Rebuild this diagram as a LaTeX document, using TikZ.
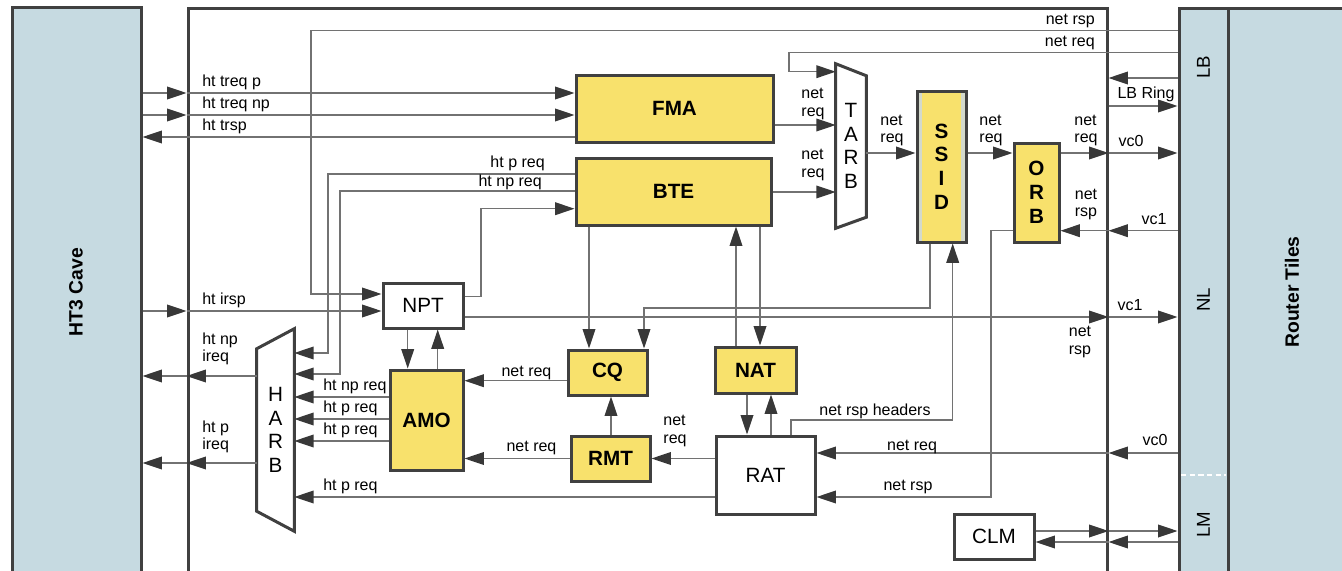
\documentclass[tikz,border=0pt]{standalone}
\usepackage{fontspec}
\setmainfont{Liberation Sans}
\usetikzlibrary{arrows.meta,fit,calc}
\definecolor{cave}{HTML}{C6DAE1}
\definecolor{gold}{HTML}{F8E16C}
\definecolor{ink}{HTML}{404040}
\definecolor{wire}{HTML}{727272}
\definecolor{tipc}{HTML}{383838}
\definecolor{strip}{HTML}{D3D9CC}
\tikzset{>={Triangle[length=14.5pt,width=9.5pt,color=tipc]},ln/.style={draw=wire,line width=1pt},arr/.style={->,ln},wall/.style={draw=ink,line width=2.25pt,inner sep=0pt},box/.style={wall,fill=white},ybox/.style={wall,fill=gold},btxt/.style={inner sep=0pt,align=center,font=\fontsize{15.5}{17.8}\selectfont},ytxt/.style={btxt,font=\fontsize{15.5}{17.8}\selectfont\bfseries},lbl/.style={inner sep=0pt,align=left,font=\fontsize{12}{13}\selectfont},side/.style={rotate=90,inner sep=0pt,font=\fontsize{14.5}{17}\selectfont\bfseries}}

\begin{document}
\begin{tikzpicture}[x=0.75pt,y=-0.75pt]
\useasboundingbox (0,0) rectangle (1342,571);
\clip (0,0) rectangle (1342,571);
\node[wall,fill=cave,fit={(12,7)(141,600)}] (ht3) {};
\node[wall,fit={(188,8)(1107,600)}] (main) {};
\node[wall,fill=cave,fit={(1228,8)(1400,600)}] (router) {};
\node[wall,fill=cave,fit={(1179,8)(1228,600)}] (lbcol) {};
\draw[white,line width=.8pt,dash pattern=on 4pt off 2.5pt] (1181,475) -- (1226,475);
\node[side] (ht3txt) at (76,292) {HT3 Cave};
\node[side] (routertxt) at (1292,292) {Router Tiles};
\foreach \n/\y/\t in {lbtxt/67/LB,nltxt/300/NL,lmtxt/525/LM}{\node[side,font=\fontsize{14}{16}\selectfont] (\n) at (lbcol.center |- 0,\y) {\t};}
\foreach \n/\x/\y/\X/\Y/\t in {fma/576/75/773/142/FMA,bte/576/158/771/225/BTE,amo/390/370/463/470/AMO,cq/568/350/647/395/CQ,rmt/571/436/650/481/RMT,nat/715/347/796/393/NAT,orb/1014/143/1059/242/{O\\R\\B}}{\node[ybox,fit={(\x,\y)(\X,\Y)}] (\n) {}; \node[ytxt] (\n txt) at (\n.center) {\t};}
\foreach \n/\x/\y/\X/\Y/\t in {npt/383/283/463/328/NPT,rat/716/436/815/514/RAT,clm/954/514/1034/559/CLM}{\node[box,fit={(\x,\y)(\X,\Y)}] (\n) {}; \node[btxt] (\n txt) at (\n.center) {\t};}
\node[ybox,fill=strip,path picture={\fill[gold] ([xshift=3.4pt]path picture bounding box.south west) rectangle ([xshift=-3.4pt]path picture bounding box.north east);},fit={(917,91)(966,242)}] (ssid) {};
\node[ytxt] (ssidtxt) at (ssid.center) {S\\S\\I\\D};
\node[inner sep=0pt,fit={(836,64)(866,228)}] (tarb) {};
\draw[ink,line width=2.25pt] (tarb.north west) -- ($(tarb.north east)+(0,12)$) -- ($(tarb.south east)+(0,-11)$) -- (tarb.south west) -- cycle;
\node[btxt] (tarbtxt) at (tarb.center) {T\\A\\R\\B};
\node[inner sep=0pt,fit={(257,329)(294,531)}] (harb) {};
\draw[ink,line width=2.25pt] ($(harb.north west)+(0,20)$) -- (harb.north east) -- (harb.south east) -- ($(harb.south west)+(0,-20)$) -- cycle;
\node[btxt] (harbtxt) at (harb.center) {H\\A\\R\\B};
\foreach \a/\b/\y in {fma.east/tarb.west/125,bte.east/tarb.west/192,cq.west/amo.east/380.7,rmt.west/amo.east/458.5,rat.west/rmt.east/458.5,amo.west/harb.east/397,amo.west/harb.east/419,amo.west/harb.east/441,rat.west/harb.east/497,tarb.east/ssid.west/153,ssid.east/orb.west/153,fma.west/ht3.east/137,lbcol.west/main.east/78,main.east/lbcol.west/106}{\draw[arr] (\a |- 0,\y) -- (\b |- 0,\y);}
\foreach \a/\b/\x in {npt.south/amo.north/407.7,amo.north/npt.south/437.7,bte.south/cq.north/589,rmt.north/cq.south/611,nat.north/bte.south/736,bte.south/nat.north/760,nat.south/rat.north/747,rat.north/nat.south/771}{\draw[arr] (\a -| \x,0) -- (\b -| \x,0);}
\foreach \a/\y/\x/\Y/\b in {lbcol.west/30.7/311/294/npt.west,lbcol.west/52.7/789/71.7/tarb.west,bte.west/174/328/353/harb.east,bte.west/191/340/374/harb.east,npt.east/296.7/481/208.7/bte.west,orb.west/230.7/991/497/rat.east}{\draw[arr] (\a |- 0,\y) -| (\x,\Y) -- (\b |- 0,\Y);}
\draw[arr] (ssid.south -| 930,0) |- (644,308) -- (cq.north -| 644,0);
\draw[arr] (rat.north -| 791,0) |- (952.7,420) -- (ssid.south -| 952.7,0);
\foreach \n/\y/\a/\b in {tp/93/ht3.east/fma.west,tnp/115/ht3.east/fma.west,ir/311/ht3.east/npt.west,np/376/harb.west/ht3.east,p/463/harb.west/ht3.east}{\coordinate (L\n) at (main.west |- 0,\y); \draw[arr] (\a |- L\n) -- (L\n); \draw[arr] (L\n) -- (\b |- L\n);}
\foreach \n/\y/\a/\b in {v0/153/orb.east/lbcol.west,v1/230.7/lbcol.west/orb.east,m/317/npt.east/lbcol.west,q/453/lbcol.west/rat.east,c1/531/clm.east/lbcol.west,c2/542/lbcol.west/clm.east}{\coordinate (R\n) at (main.east |- 0,\y); \draw[arr] (\a |- R\n) -- (R\n); \draw[arr] (R\n) -- (\b |- R\n);}
\foreach \n/\x/\y/\a/\t in {tpT/202/86/base west/ht treq p,tnpT/202/108/base west/ht treq np,trT/202/130/base west/ht trsp,irT/202/304/base west/ht irsp,anpT/323/390.7/base west/ht np req,ap1T/323/412.7/base west/ht p req,ap2T/323/434/base west/ht p req,rpT/323/490.7/base west/ht p req,bpT/545/167/base east/ht p req,bnpT/542/186.5/base east/ht np req,nrspT/1095/24/base east/net rsp,nreqT/1095/46.7/base east/net req,cqT/526.5/376/base/net req,rmtT/531.5/451/base/net req,hdrT/875/415/base/net rsp headers,rqT/912/450/base/net req,rrT/908/490/base/net rsp,v0bT/1155/445/base/vc0,v1mT/1130/310/base/vc1,v1tT/1154/224/base/vc1,v0tT/1131/146/base/vc0,ringT/1146/98/base/LB Ring,npiT/202/349/west/{ht np\\ireq},piT/202/437/west/{ht p\\ireq},rrmT/675/431/center/{net\\req},nrspM/1080/342/center/{net\\rsp},orbrT/1086/204.5/center/{net\\rsp},orbqT/1086/130.5/center/{net\\req},ssqT/991/130.5/center/{net\\req},tsqT/892/130.5/center/{net\\req},fmqT/813/104/center/{net\\req},btqT/813/165/center/{net\\req}}{\node[lbl,anchor=\a] (\n) at (\x,\y) {\t};}
\end{tikzpicture}
\end{document}
